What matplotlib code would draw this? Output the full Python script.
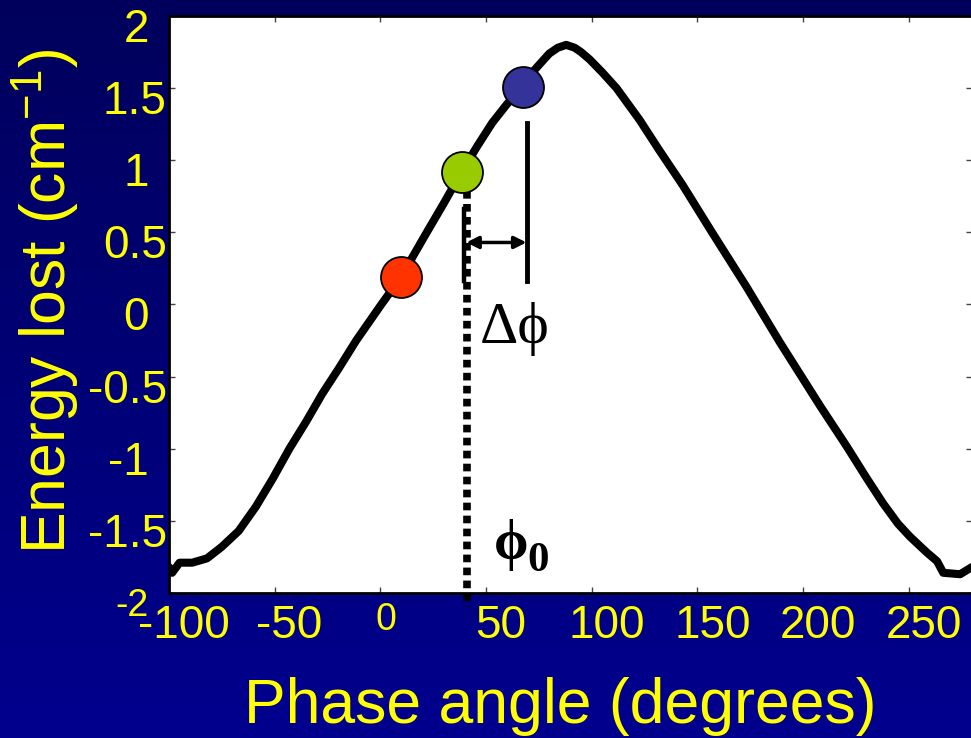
import matplotlib
matplotlib.use("Agg")
import matplotlib.pyplot as plt
import matplotlib.transforms as mtransforms
import numpy as np

plt.rcParams['font.family'] = ['Liberation Sans', 'DejaVu Sans']
plt.rcParams['mathtext.fontset'] = 'custom'
plt.rcParams['mathtext.rm'] = 'Liberation Sans'

# energy lost vs phase
phase = [-100, -98.5, -95, -89, -82, -75, -67, -58.8, -51, -43, -35, -27.5,
         -19.5, -11.4, 0, 9.8, 21.6, 30, 38.5, 46, 53, 60, 67.5, 72, 76.9, 80,
         84, 88, 92, 95, 99, 105, 111.8, 122.7, 132, 143, 157, 173.4, 189, 208,
         221, 230, 238, 245, 250.7, 258.7, 263.5, 266.4, 274.4, 280]
energy = [-1.82, -1.86, -1.79, -1.79, -1.76, -1.68, -1.57, -1.40, -1.21, -1.00,
          -0.81, -0.62, -0.44, -0.25, -0.01, 0.19, 0.49, 0.70, 0.92, 1.10, 1.26,
          1.39, 1.51, 1.61, 1.69, 1.74, 1.78, 1.80, 1.78, 1.75, 1.70, 1.61, 1.50,
          1.28, 1.07, 0.83, 0.50, 0.12, -0.26, -0.70, -0.99, -1.20, -1.38, -1.52,
          -1.61, -1.72, -1.78, -1.86, -1.87, -1.82]

# three operating points on the rising slope
pt_phase = [9.8, 38.5, 67.5]
pt_energy = [0.19, 0.92, 1.51]
pt_colors = ['#FF3300', '#99CC00', '#333399']

xticks = [-100, -50, 0, 50, 100, 150, 200, 250]
yticks = [-2, -1.5, -1, -0.5, 0, 0.5, 1, 1.5, 2]
ytick_labels = ['-2', '-1.5', '-1', '-0.5', '0', '0.5', '1', '1.5', '2']

phi0 = 41.0
dphi_end = 69.2

fig = plt.figure(figsize=(9.71, 7.38), dpi=100)

# gradient background
bg = fig.add_axes([0, 0, 1, 1], zorder=-10)
grad = np.linspace(0, 1, 256).reshape(-1, 1)
top = np.array([0x00, 0x00, 0x5C]) / 255
bot = np.array([0x00, 0x00, 0x8E]) / 255
img = top[None, None, :] * (1 - grad[:, :, None]) + bot[None, None, :] * grad[:, :, None]
bg.imshow(img, aspect='auto', extent=[0, 1, 0, 1])
bg.axis('off')

ax = fig.add_axes([0.174, 0.1965, 0.827, 0.7818])
ax.set_facecolor('white')
ax.plot(phase, energy, color='black', lw=5.8, solid_capstyle='round',
        solid_joinstyle='round', zorder=3)

for x, y, c in zip(pt_phase, pt_energy, pt_colors):
    ax.plot(x, y, 'o', ms=29.5, mfc=c, mec='black', mew=1.3, zorder=5)

# phi0 dotted line and delta-phi bracket
ax.plot([phi0, phi0], [0.79, -2.1], color='black', lw=5.5,
        linestyle=(0, (1, 0.7)), clip_on=False, zorder=4)
ax.plot([phi0 - 1.2, phi0 - 1.2], [0.66, 0.16], color='black', lw=3.2, zorder=4)
ax.plot([dphi_end, dphi_end], [1.26, 0.16], color='black', lw=3.5, zorder=4)
ax.annotate('', xy=(phi0 - 0.3, 0.43), xytext=(dphi_end, 0.43),
            arrowprops=dict(arrowstyle='<|-|>', color='black', lw=2.5,
                            mutation_scale=18, shrinkA=0, shrinkB=0), zorder=4)

ax.set_xlim(-100, 280)
ax.set_ylim(-2, 2)
ax.set_xticks(xticks)
ax.set_yticks(yticks)
ax.set_xticklabels([str(t) for t in xticks])
ax.set_yticklabels(ytick_labels)
ax.tick_params(direction='in', length=4, width=1, color='#444444',
               top=True, right=True, labelcolor='#FFFF00', labelsize=33)
ax.tick_params(axis='x', pad=8)
ax.tick_params(axis='y', pad=1.5)
for s in ax.spines.values():
    s.set_linewidth(2)
    s.set_color('black')

xoff = mtransforms.ScaledTranslation(0.15, 0, fig.dpi_scale_trans)
for lab in ax.get_xticklabels():
    lab.set_transform(lab.get_transform() + xoff)
zero_lab = ax.get_xticklabels()[2]
zero_lab.set_fontsize(27)
zero_lab.set_transform(zero_lab.get_transform()
                       + mtransforms.ScaledTranslation(-0.09, 0.02, fig.dpi_scale_trans))

# decimal labels sit against the axis, whole numbers further left
for lab, txt in zip(ax.get_yticklabels(), ytick_labels):
    dx = -0.18 if '.' not in txt else 0.0
    lab.set_transform(lab.get_transform()
                      + mtransforms.ScaledTranslation(dx, -0.09, fig.dpi_scale_trans))
ax.get_yticklabels()[0].set_fontsize(27)

serif = ['Liberation Serif', 'DejaVu Serif']
fig.text(0.494, 0.535, '\u0394\u03d5', fontsize=43, color='black',
         family=serif, ha='left', va='baseline')
fig.text(0.509, 0.243, '\u03d5', fontsize=40, color='black', fontweight='bold',
         family=serif, ha='left', va='baseline')
fig.text(0.543, 0.226, '0', fontsize=31, color='black', fontweight='bold',
         family=serif, ha='left', va='baseline')

fig.text(0.577, 0.020, 'Phase angle (degrees)', color='#FFFF00', fontsize=45,
         ha='center', va='baseline')
fig.text(0.047, 0.591, 'Energy lost (cm$^{\\mathrm{-1}}$)', color='#FFFF00',
         fontsize=45, rotation=90, ha='center', va='center')

fig.savefig('out.png', dpi=100, facecolor=fig.get_facecolor())
